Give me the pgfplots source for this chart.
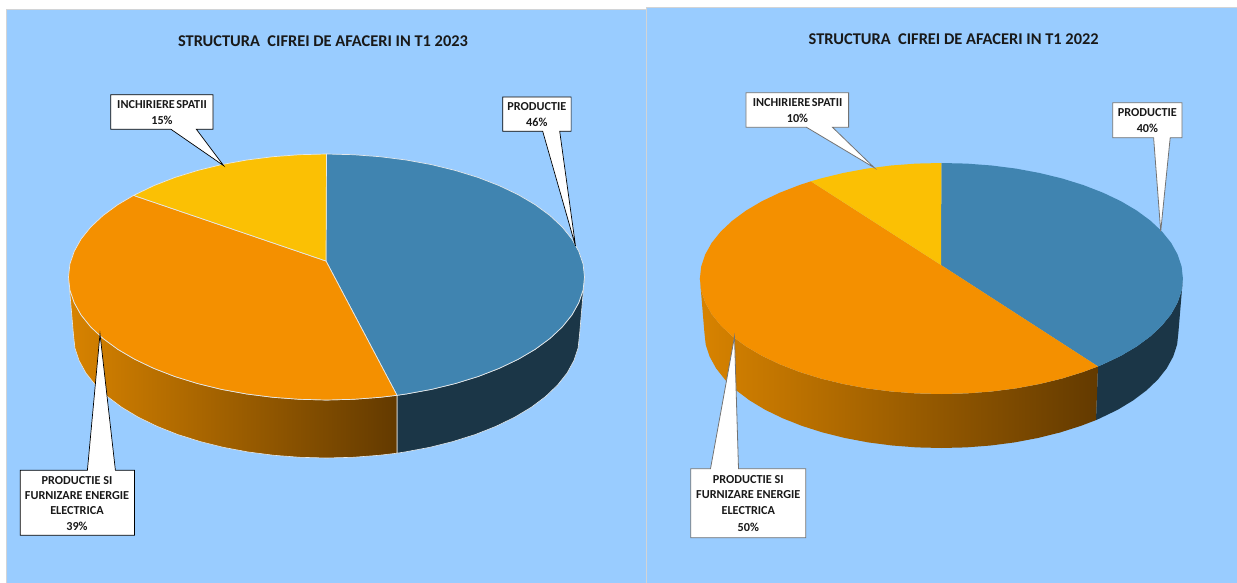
\documentclass[border=0pt]{standalone}
\usepackage{pgfplots}
\pgfplotsset{compat=1.18}
\usepackage{fontspec}
\setmainfont{Carlito}
\definecolor{bgblue}{HTML}{99CCFF}
\definecolor{pieblue}{HTML}{4084B0}
\definecolor{pieorange}{HTML}{F49000}
\definecolor{pieyellow}{HTML}{FBC004}
\definecolor{wallblue}{HTML}{1B3647}
\definecolor{wallL}{HTML}{D88300}
\definecolor{wallR}{HTML}{633A00}
\definecolor{rim}{HTML}{E4E8EA}
\definecolor{edge}{HTML}{D2D4D6}
\begin{document}
\begin{tikzpicture}
\begin{axis}[scale only axis,width=1237pt,height=583pt,xmin=0,xmax=1237,ymin=0,ymax=583,y dir=reverse,hide axis,clip=true,
  title style={font=\bfseries}]
% page and panels
\addplot[fill=white,draw=none] coordinates {(0,0)(1237,0)(1237,583)(0,583)} -- cycle;
\addplot[fill=bgblue,draw=edge,line width=0.9pt] coordinates {(6.3,9.5)(647,9.5)(647,590)(6.3,590)} -- cycle;
\addplot[fill=bgblue,draw=edge,line width=0.9pt] coordinates {(646.8,7.5)(1245,7.5)(1245,590)(646.8,590)} -- cycle;

% ---- 2023: side walls
\addplot[fill=wallblue,draw=rim,line width=0.6pt] coordinates {
(584.5,277)(583.1,289.9)(578.8,302.6)(571.9,315)(562.2,327)(549.9,338.5)(535.2,349.3)(518.2,359.3)(499.1,368.4)(478.2,376.5)(455.5,383.5)(431.4,389.4)(406.2,394)(397,395.3)
(397,453.2)(404.7,452)(429.4,447.4)(453,441.5)(475.3,434.5)(495.8,426.4)(514.5,417.3)(531.2,407.3)(545.6,396.5)(557.6,385)(567.1,373)(573.9,360.6)(578.1,347.9)(579.5,335)} -- cycle;
\addplot[left color=wallL,right color=wallR,draw=rim,line width=0.6pt] coordinates {
(397,395.3)(380.1,397.3)(353.5,399.3)(326.5,400)(299.5,399.3)(272.9,397.3)(246.8,394)(221.6,389.4)(197.5,383.5)(174.8,376.5)(153.9,368.4)(134.8,359.3)(117.8,349.3)(103.1,338.5)(90.8,327)(81.1,315)(74.2,302.6)(69.9,289.9)(68.5,277)
(73.5,335)(74.9,347.9)(79.1,360.6)(85.9,373)(95.4,385)(107.4,396.5)(121.8,407.3)(138.5,417.3)(157.2,426.4)(177.7,434.5)(200,441.5)(223.6,447.4)(248.3,452)(273.9,455.3)(300,457.3)(326.5,458)(353,457.3)(379.1,455.3)(397,453.2)} -- cycle;
% ---- 2023: top
\addplot[fill=pieblue,draw=rim,line width=0.7pt] coordinates {
(326,261)(326.5,154)(353.5,154.7)(380.1,156.7)(406.2,160)(431.4,164.6)(455.5,170.5)(478.2,177.5)(499.1,185.6)(518.2,194.7)(535.2,204.7)(549.9,215.5)(562.2,227)(571.9,239)(578.8,251.4)(583.1,264.1)(584.5,277)(583.1,289.9)(578.8,302.6)(571.9,315)(562.2,327)(549.9,338.5)(535.2,349.3)(518.2,359.3)(499.1,368.4)(478.2,376.5)(455.5,383.5)(431.4,389.4)(406.2,394)(397,395.3)} -- cycle;
\addplot[fill=pieorange,draw=rim,line width=0.7pt] coordinates {
(326,261)(397,395.3)(380.1,397.3)(353.5,399.3)(326.5,400)(299.5,399.3)(272.9,397.3)(246.8,394)(221.6,389.4)(197.5,383.5)(174.8,376.5)(153.9,368.4)(134.8,359.3)(117.8,349.3)(103.1,338.5)(90.8,327)(81.1,315)(74.2,302.6)(69.9,289.9)(68.5,277)(69.9,264.1)(74.2,251.4)(81.1,239)(90.8,227)(103.1,215.5)(117.8,204.7)(133.6,195.4)} -- cycle;
\addplot[fill=pieyellow,draw=rim,line width=0.7pt] coordinates {
(326,261)(133.6,195.4)(153.9,185.6)(174.8,177.5)(197.5,170.5)(221.6,164.6)(246.8,160)(272.9,156.7)(299.5,154.7)(326.5,154)} -- cycle;

% ---- 2022: side walls
\addplot[fill=wallblue,draw=none] coordinates {
(1182.9,278.5)(1181.6,290.6)(1177.6,302.5)(1171.1,314.2)(1162,325.5)(1150.5,336.3)(1136.8,346.4)(1120.9,355.8)(1103,364.3)(1098,366.4)
(1096,420.1)(1100,418.3)(1117.6,409.8)(1133.2,400.4)(1146.6,390.3)(1157.9,379.5)(1166.8,368.2)(1173.2,356.5)(1177.1,344.6)(1178.4,332.5)} -- cycle;
\addplot[left color=wallL,right color=wallR,draw=none] coordinates {
(1098,366.4)(1083.4,371.9)(1062.2,378.5)(1039.6,384)(1016,388.4)(991.6,391.5)(966.6,393.4)(941.4,394)(916.2,393.4)(891.2,391.5)(866.8,388.4)(843.2,384)(820.6,378.5)(799.4,371.9)(779.8,364.3)(761.9,355.8)(746,346.4)(732.3,336.3)(720.8,325.5)(711.7,314.2)(705.2,302.5)(701.2,290.6)(699.9,278.5)
(704.4,332.5)(705.7,344.6)(709.6,356.5)(716,368.2)(724.9,379.5)(736.2,390.3)(749.6,400.4)(765.2,409.8)(782.8,418.3)(802,425.9)(822.8,432.5)(845,438)(868.2,442.4)(892.1,445.5)(916.7,447.4)(941.4,448)(966.1,447.4)(990.7,445.5)(1014.6,442.4)(1037.8,438)(1060,432.5)(1080.8,425.9)(1096,420.1)} -- cycle;
% ---- 2022: top
\addplot[fill=pieblue,draw=none] coordinates {
(941,265)(941.4,163)(966.6,163.6)(991.6,165.5)(1016,168.6)(1039.6,173)(1062.2,178.5)(1083.4,185.1)(1103,192.7)(1120.9,201.2)(1136.8,210.6)(1150.5,220.7)(1162,231.5)(1171.1,242.8)(1177.6,254.5)(1181.6,266.4)(1182.9,278.5)(1181.6,290.6)(1177.6,302.5)(1171.1,314.2)(1162,325.5)(1150.5,336.3)(1136.8,346.4)(1120.9,355.8)(1103,364.3)(1098,366.4)} -- cycle;
\addplot[fill=pieorange,draw=none] coordinates {
(941,265)(1098,366.4)(1083.4,371.9)(1062.2,378.5)(1039.6,384)(1016,388.4)(991.6,391.5)(966.6,393.4)(941.4,394)(916.2,393.4)(891.2,391.5)(866.8,388.4)(843.2,384)(820.6,378.5)(799.4,371.9)(779.8,364.3)(761.9,355.8)(746,346.4)(732.3,336.3)(720.8,325.5)(711.7,314.2)(705.2,302.5)(701.2,290.6)(699.9,278.5)(701.2,266.4)(705.2,254.5)(711.7,242.8)(720.8,231.5)(732.3,220.7)(746,210.6)(761.9,201.2)(779.8,192.7)(799.4,185.1)(810.9,181.3)} -- cycle;
\addplot[fill=pieyellow,draw=none] coordinates {
(941,265)(810.9,181.3)(820.6,178.5)(843.2,173)(866.8,168.6)(891.2,165.5)(916.2,163.6)(941.4,163)} -- cycle;

% ---- callouts 2023
\addplot[fill=white,draw=black,line width=0.7pt] coordinates {(110.7,94.7)(213,94.7)(213,129.3)(196.4,129.3)(223.7,165.7)(171,129.3)(110.7,129.3)} -- cycle;
\addplot[fill=white,draw=black,line width=0.7pt] coordinates {(502.8,97)(571.1,97)(571.1,131.3)(559.7,131.3)(575.5,246)(542.7,131.3)(502.8,131.3)} -- cycle;
\addplot[fill=white,draw=black,line width=0.7pt] coordinates {(20.2,470.3)(87.4,470.3)(100,334)(115.4,470.3)(134.4,470.3)(134.4,535.3)(20.2,535.3)} -- cycle;
% ---- callouts 2022
\addplot[fill=white,draw=black!55,line width=0.8pt] coordinates {(745.9,92.7)(848.6,92.7)(848.6,127.3)(832.5,127.3)(874.2,167.7)(806.5,127.3)(745.9,127.3)} -- cycle;
\addplot[fill=white,draw=black!55,line width=0.8pt] coordinates {(1112.7,102.7)(1182,102.7)(1182,137.7)(1170.2,137.7)(1160.7,231.3)(1153.6,137.7)(1112.7,137.7)} -- cycle;
\addplot[fill=white,draw=black!55,line width=0.8pt] coordinates {(690.8,468.7)(710.5,468.7)(734.5,336.7)(738.5,468.7)(805.8,468.7)(805.8,537.7)(690.8,537.7)} -- cycle;

% ---- text
\node[font=\bfseries\fontsize{16.4}{18}\selectfont,text=black!90] at (axis cs:323,40.7) {STRUCTURA\ \ CIFREI DE AFACERI IN T1 2023};
\node[font=\bfseries\fontsize{16.4}{18}\selectfont,text=black!90] at (axis cs:953.7,39) {STRUCTURA\ \ CIFREI DE AFACERI IN T1 2022};
\tikzset{lab/.style={font=\bfseries\fontsize{12.2}{14}\selectfont,text=black!90,inner sep=0pt}}
\node[lab] at (axis cs:162,105) {INCHIRIERE\hspace{1.5pt}SPATII};
\node[lab] at (axis cs:162,120) {15\%};
\node[lab] at (axis cs:536.8,107) {PRODUCTIE};
\node[lab] at (axis cs:536.8,122) {46\%};
\node[lab] at (axis cs:77,481) {PRODUCTIE SI};
\node[lab] at (axis cs:77,496) {FURNIZARE ENERGIE};
\node[lab] at (axis cs:77,511) {ELECTRICA};
\node[lab] at (axis cs:77,526) {39\%};
\node[lab] at (axis cs:797.5,102.7) {INCHIRIERE\hspace{1.5pt}SPATII};
\node[lab] at (axis cs:797.5,118) {10\%};
\node[lab] at (axis cs:1147.4,113) {PRODUCTIE};
\node[lab] at (axis cs:1147.4,128.7) {40\%};
\node[lab] at (axis cs:748.3,479.7) {PRODUCTIE SI};
\node[lab] at (axis cs:748.3,494.7) {FURNIZARE ENERGIE};
\node[lab] at (axis cs:748.3,511) {ELECTRICA};
\node[lab] at (axis cs:748.3,527.7) {50\%};
\end{axis}
\end{tikzpicture}
\end{document}
